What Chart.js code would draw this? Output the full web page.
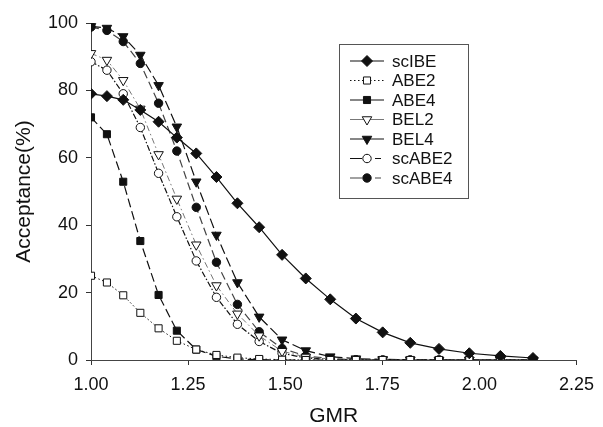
<!DOCTYPE html>
<html>
<head>
<meta charset="utf-8">
<script src="https://cdn.jsdelivr.net/npm/chart.js@4.4.1/dist/chart.umd.min.js"></script>
<style>
  html, body { margin: 0; padding: 0; background: #fff; }
  #wrap { width: 603px; height: 427px; }
</style>
</head>
<body>
<div id="wrap"><canvas id="chart" width="603" height="427"></canvas></div>
<script>
// GMR values at which acceptance was computed
const gmr = [1.000, 1.041, 1.083, 1.127, 1.174, 1.221, 1.271, 1.323, 1.377, 1.433,
             1.492, 1.553, 1.616, 1.682, 1.751, 1.822, 1.896, 1.974, 2.054, 2.138];

// Acceptance (%) per method
const scIBE  = [79, 78.3, 77.2, 74.2, 70.7, 66, 61.3, 54.3, 46.5, 39.4,
                31.2, 24.2, 18, 12.3, 8.2, 5.1, 3.3, 2.0, 1.2, 0.6];
const abe2   = [25, 23, 19.2, 14, 9.4, 5.7, 3.1, 1.5, 0.7, 0.3,
                0.1, 0, 0, 0, 0, 0, 0, 0, 0, 0];
const abe4   = [72, 67, 52.9, 35.3, 19.3, 8.7, 3.1, 1.1, 0.3, 0.1,
                0, 0, 0, 0, 0, 0, 0, 0, 0, 0];
const bel2   = [91, 89, 83, 74.5, 61, 47.8, 34.2, 22.1, 13.7, 7.2,
                2.6, 0.9, 0.3, 0.1, 0, 0, 0, 0, 0, 0];
const bel4   = [99, 98.5, 96, 90.5, 81.5, 69.2, 52.9, 37.1, 23, 12.8,
                6, 2.8, 1.0, 0.4, 0.2, 0.1, 0, 0, 0, 0];
const scABE2 = [88.5, 86, 79, 69, 55.4, 42.5, 29.4, 18.6, 10.6, 5.5,
                2, 0.6, 0.2, 0, 0, 0, 0, 0, 0, 0];
const scABE4 = [98.8, 97.8, 94.5, 88, 76.2, 62, 45.3, 29, 16.5, 8.4,
                3.4, 1.2, 0.4, 0.1, 0, 0, 0, 0, 0, 0];

const xTicks = [1.00, 1.25, 1.50, 1.75, 2.00, 2.25];

const FONT = "'Liberation Sans', Arial, sans-serif";

function pts(values) {
  return values.map((v, i) => ({ x: gmr[i], y: v }));
}

function series(label, values, opts) {
  return Object.assign({
    label: label,
    data: pts(values),
    borderColor: "#111",
    borderWidth: 1.2,
    pointBorderColor: "#111",
    pointBorderWidth: 1,
    pointBackgroundColor: "#111",
    pointRadius: 4.5,
    pointHoverRadius: 4.5,
    tension: 0,
    fill: false,
  }, opts);
}

const datasets = [
  series("scIBE", scIBE, { pointStyle: "rectRot", pointRadius: 5.5 }),
  series("ABE2", abe2, { borderDash: [1.5, 2.5], borderWidth: 1, pointStyle: "rect",
    pointBackgroundColor: "#fff", pointRadius: 5 }),
  series("ABE4", abe4, { borderDash: [9, 4], legendDash: [], pointStyle: "rect", pointRadius: 5 }),
  series("BEL2", bel2, { borderColor: "#777", borderDash: [6, 3, 1.5, 3], legendDash: [],
    borderWidth: 1, pointStyle: "triangle", pointRotation: 180,
    pointBackgroundColor: "#fff", pointRadius: 5.5 }),
  series("BEL4", bel4, { borderDash: [10, 4], legendDash: [], pointStyle: "triangle",
    pointRotation: 180, pointRadius: 5.5 }),
  series("scABE2", scABE2, { borderDash: [6, 2, 1.5, 2], legendDash: [12, 13, 6, 20],
    pointStyle: "circle", pointBackgroundColor: "#fff", pointRadius: 4.2 }),
  series("scABE4", scABE4, { borderColor: "#444", borderDash: [8, 4], legendDash: [12, 13, 6, 20],
    pointStyle: "circle", pointRadius: 4.2 }),
];

// marker drawn by hand for the legend box
function marker(ctx, ds, x, y) {
  const r = ds.pointRadius;
  ctx.save();
  ctx.fillStyle = ds.pointBackgroundColor;
  ctx.strokeStyle = ds.pointBorderColor;
  ctx.lineWidth = 1;
  ctx.setLineDash([]);
  ctx.beginPath();
  if (ds.pointStyle === "rectRot") {
    ctx.moveTo(x, y - r); ctx.lineTo(x + r, y); ctx.lineTo(x, y + r); ctx.lineTo(x - r, y);
    ctx.closePath();
  } else if (ds.pointStyle === "rect") {
    const s = r * Math.SQRT1_2;
    ctx.rect(x - s, y - s, 2 * s, 2 * s);
  } else if (ds.pointStyle === "triangle") {
    const h = r * 0.5, w = r * 0.866;
    ctx.moveTo(x, y + r); ctx.lineTo(x - w, y - h); ctx.lineTo(x + w, y - h);
    ctx.closePath();
  } else {
    ctx.arc(x, y, r, 0, Math.PI * 2);
  }
  ctx.fill();
  ctx.stroke();
  ctx.restore();
}

const boxLegend = {
  id: "boxLegend",
  afterDraw(chart) {
    const ctx = chart.ctx;
    const bx = 339, by = 44, bw = 129, bh = 154;
    ctx.save();
    ctx.strokeStyle = "#555";
    ctx.lineWidth = 1;
    ctx.setLineDash([]);
    ctx.fillStyle = "#fff";
    ctx.fillRect(bx, by, bw, bh);
    ctx.strokeRect(bx + 0.5, by + 0.5, bw, bh);
    ctx.font = "17px " + FONT;
    ctx.textBaseline = "middle";
    chart.data.datasets.forEach((ds, i) => {
      const y = 61 + i * 19.5;
      ctx.strokeStyle = ds.borderColor;
      ctx.lineWidth = ds.borderWidth;
      ctx.setLineDash(ds.legendDash || ds.borderDash || []);
      ctx.beginPath();
      ctx.moveTo(350, y);
      ctx.lineTo(384, y);
      ctx.stroke();
      marker(ctx, ds, 367, y);
      ctx.fillStyle = "#111";
      ctx.fillText(ds.label, 392, y + 1);
    });
    ctx.restore();
  },
};

new Chart(document.getElementById("chart").getContext("2d"), {
  type: "line",
  data: { datasets: datasets },
  options: {
    responsive: false,
    animation: false,
    events: [],
    layout: { padding: { left: 0, right: 20, top: 23, bottom: 0 } },
    plugins: { legend: { display: false }, tooltip: { enabled: false } },
    scales: {
      x: {
        type: "linear",
        min: 1,
        max: 2.25,
        afterBuildTicks: (scale) => { scale.ticks = xTicks.map((v) => ({ value: v })); },
        ticks: {
          color: "#111",
          font: { family: FONT, size: 18 },
          padding: 9,
          maxRotation: 0,
          callback: (v) => v.toFixed(2),
        },
        grid: { drawOnChartArea: false, tickLength: 5, color: "#333" },
        border: { color: "#444", width: 1, dash: [9, 3, 2, 3] },
        title: {
          display: true,
          text: "GMR",
          color: "#111",
          font: { family: FONT, size: 21, lineHeight: 1 },
          padding: { top: 0, bottom: 0 },
        },
        afterFit: (scale) => { scale.height = 67; },
      },
      y: {
        min: 0,
        max: 100,
        ticks: {
          stepSize: 20,
          color: "#111",
          font: { family: FONT, size: 18 },
          padding: 8,
        },
        grid: { drawOnChartArea: false, tickLength: 5, color: "#333" },
        border: { color: "#444", width: 1, dash: [1, 1.5] },
        title: {
          display: true,
          text: "Acceptance(%)",
          color: "#111",
          font: { family: FONT, size: 21, lineHeight: 1 },
          padding: { top: 14, bottom: 0 },
        },
        afterFit: (scale) => { scale.width = 91; },
      },
    },
  },
  plugins: [boxLegend],
});
</script>
</body>
</html>
